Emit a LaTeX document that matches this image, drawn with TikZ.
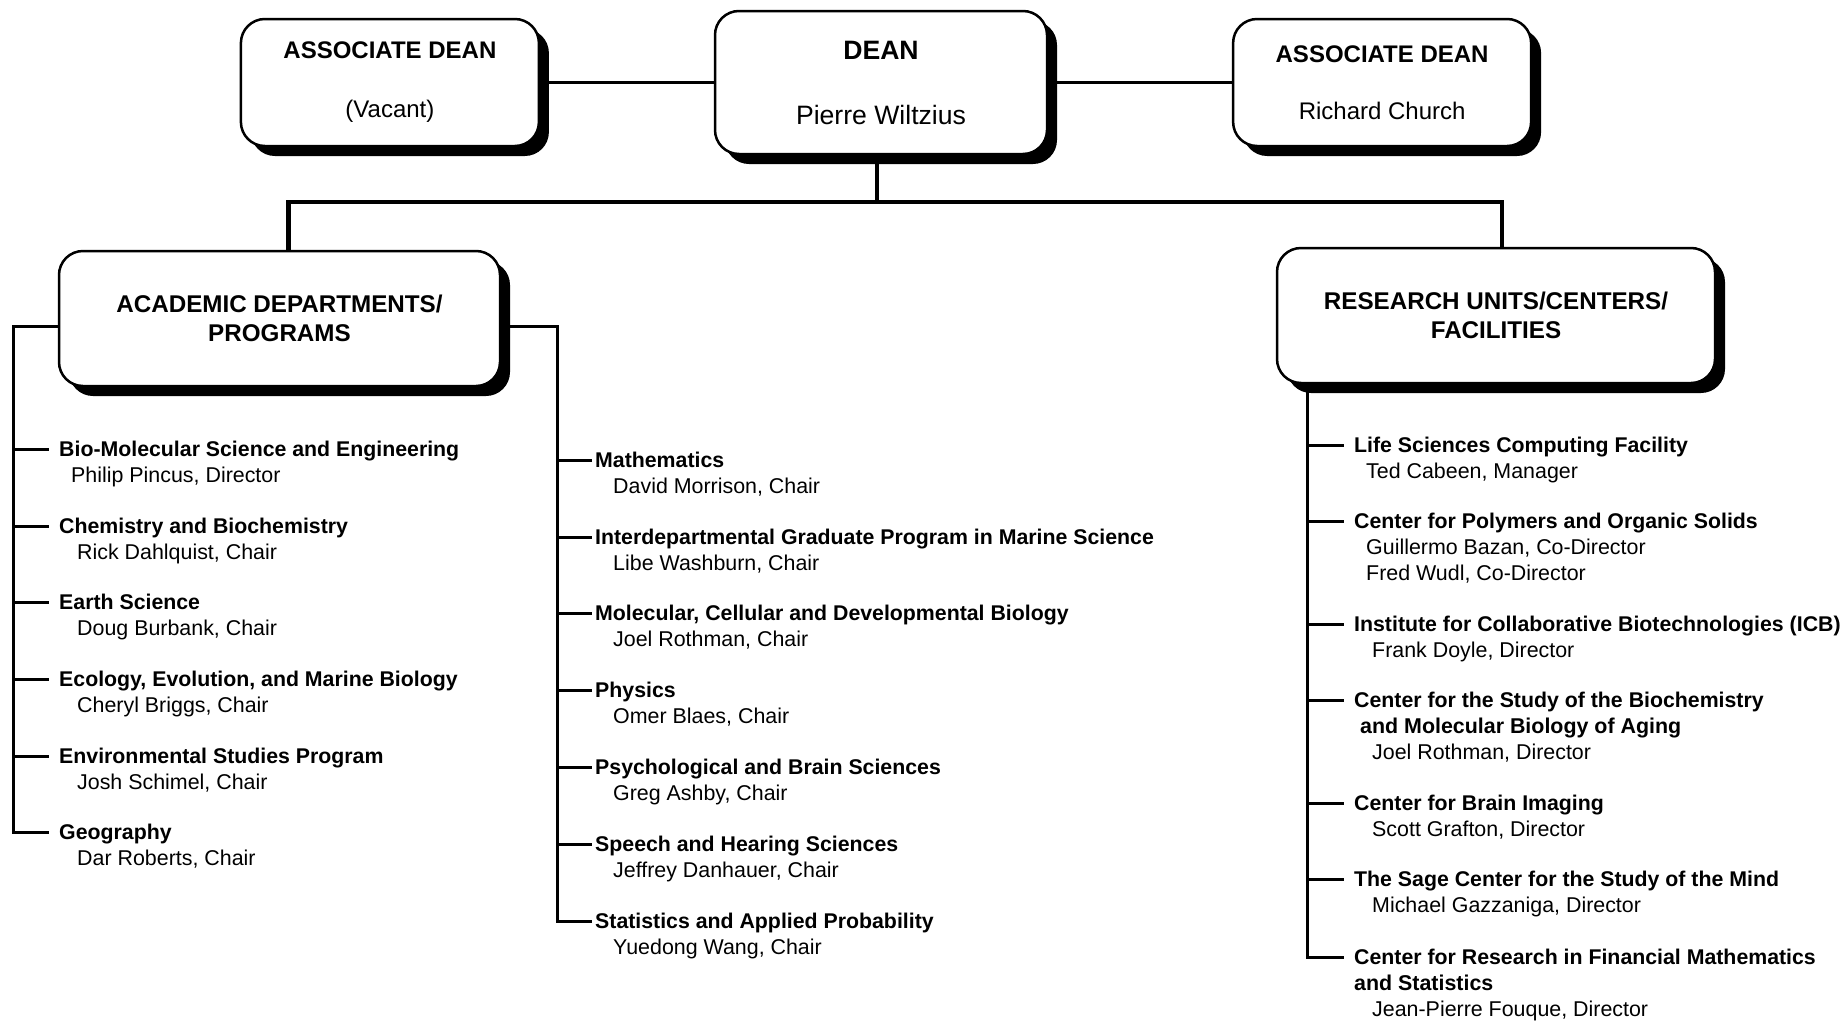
\documentclass[tikz,border=0pt]{standalone}
\usepackage{fontspec}
\setmainfont{Liberation Sans}
\usetikzlibrary{positioning,shadows}

\tikzset{
  box/.style={draw, line width=2.5pt, rounded corners=24pt, fill=white,
    align=center, inner sep=0pt,
    drop shadow={shadow xshift=10pt, shadow yshift=-10pt, fill=black, opacity=1}},
  head/.style={anchor=base west, inner sep=0pt, text height=16pt, text depth=2pt,
    font=\fontsize{21.3}{26}\selectfont\bfseries},
  who/.style={inner sep=0pt, align=left, font=\fontsize{21.4}{26}\selectfont},
  link/.style={line width=2.4pt},
  bus/.style={line width=4.5pt},
  list/.style={line width=3pt},
}

\begin{document}
\begin{tikzpicture}[x=1pt, y=-1pt]
   \useasboundingbox (0,0) rectangle (1846,1020);

   \node[box, minimum width=332pt, minimum height=143pt,
         font=\fontsize{26.6}{32}\selectfont] (dean) at (881,82.5)
         {\textbf{DEAN}\\[33pt]Pierre Wiltzius};
   \node[box, minimum width=298pt, minimum height=127pt,
         font=\fontsize{24}{29}\selectfont, left=173.6pt of dean] (adl)
         {\textbf{ASSOCIATE DEAN}\\[30pt](Vacant)};
   \node[box, minimum width=298pt, minimum height=127pt,
         font=\fontsize{24}{29}\selectfont, right=183.6pt of dean] (adr)
         {\textbf{ASSOCIATE DEAN}\\[28pt]Richard Church};

   \node[box, minimum width=441pt, minimum height=135pt,
         font=\fontsize{24.2}{29}\selectfont\bfseries] (acad) at (279.5,318.5)
         {ACADEMIC DEPARTMENTS/\\PROGRAMS};
   \node[box, minimum width=438pt, minimum height=135pt,
         font=\fontsize{24.2}{29}\selectfont\bfseries] (res) at (1496,315.5)
         {RESEARCH UNITS/CENTERS/\\FACILITIES};

   \coordinate (bus) at (877,202);
   \draw[link] (adl.east) -- (dean.west);
   \draw[link] (dean.east) -- (dean.east -| adr.west);
   \draw[bus] (dean.south -| bus) -- (bus);
   \draw[bus] ([xshift=9pt]acad.north) |- (bus) -| ([xshift=6pt]res.north);

   \node[head] (bmse) at (59,456) {Bio-Molecular Science and Engineering};
   \node[who, below right=7.8pt and 12pt of bmse.base west] (bmsep) {\strut Philip Pincus, Director};
   \node[head] (chem) at (59,533) {Chemistry and Biochemistry};
   \node[who, below right=7.8pt and 18pt of chem.base west] (chemp) {\strut Rick Dahlquist, Chair};
   \node[head] (earth) at (59,609) {Earth Science};
   \node[who, below right=7.8pt and 18pt of earth.base west] (earthp) {\strut Doug Burbank, Chair};
   \node[head] (eemb) at (59,686) {Ecology, Evolution, and Marine Biology};
   \node[who, below right=7.8pt and 18pt of eemb.base west] (eembp) {\strut Cheryl Briggs, Chair};
   \node[head] (esp) at (59,763) {Environmental Studies Program};
   \node[who, below right=7.8pt and 18pt of esp.base west] (espp) {\strut Josh Schimel, Chair};
   \node[head] (geog) at (59,839) {Geography};
   \node[who, below right=7.8pt and 18pt of geog.base west] (geogp) {\strut Dar Roberts, Chair};

   \node[head] (math) at (595,467) {Mathematics};
   \node[who, below right=7.8pt and 18pt of math.base west] (mathp) {\strut David Morrison, Chair};
   \node[head] (igpms) at (595,544) {Interdepartmental Graduate Program in Marine Science};
   \node[who, below right=7.8pt and 18pt of igpms.base west] (igpmsp) {\strut Libe Washburn, Chair};
   \node[head] (mcdb) at (595,620) {Molecular, Cellular and Developmental Biology};
   \node[who, below right=7.8pt and 18pt of mcdb.base west] (mcdbp) {\strut Joel Rothman, Chair};
   \node[head] (phys) at (595,697) {Physics};
   \node[who, below right=7.8pt and 18pt of phys.base west] (physp) {\strut Omer Blaes, Chair};
   \node[head] (pbs) at (595,774) {Psychological and Brain Sciences};
   \node[who, below right=7.8pt and 18pt of pbs.base west] (pbsp) {\strut Greg Ashby, Chair};
   \node[head] (shs) at (595,851) {Speech and Hearing Sciences};
   \node[who, below right=7.8pt and 18pt of shs.base west] (shsp) {\strut Jeffrey Danhauer, Chair};
   \node[head] (pstat) at (595,928) {Statistics and Applied Probability};
   \node[who, below right=7.8pt and 18pt of pstat.base west] (pstatp) {\strut Yuedong Wang, Chair};

   \node[head] (lscf) at (1354,452) {Life Sciences Computing Facility};
   \node[who, below right=7.8pt and 12pt of lscf.base west] (lscfp) {\strut Ted Cabeen, Manager};
   \node[head] (cpos) at (1354,528.5) {Center for Polymers and Organic Solids};
   \node[who, below right=7.8pt and 12pt of cpos.base west] (cposp)
        {\strut Guillermo Bazan, Co-Director\\Fred Wudl, Co-Director};
   \node[head] (icb) at (1354,631) {Institute for Collaborative Biotechnologies (ICB)};
   \node[who, below right=7.8pt and 18pt of icb.base west] (icbp) {\strut Frank Doyle, Director};
   \node[head] (bmba) at (1354,707.5) {Center for the Study of the Biochemistry};
   \node[who, below right=7.8pt and 6pt of bmba.base west] (bmbap)
        {\strut\textbf{and Molecular Biology of Aging}\\\hspace*{12pt}Joel Rothman, Director};
   \node[head] (cbi) at (1354,810) {Center for Brain Imaging};
   \node[who, below right=7.8pt and 18pt of cbi.base west] (cbip) {\strut Scott Grafton, Director};
   \node[head] (sage) at (1354,886.5) {The Sage Center for the Study of the Mind};
   \node[who, below right=7.8pt and 18pt of sage.base west] (sagep) {\strut Michael Gazzaniga, Director};
   \node[head] (crfm) at (1354,964) {Center for Research in Financial Mathematics};
   \node[who, below right=7.8pt and 0pt of crfm.base west] (crfmp)
        {\strut\textbf{and Statistics}\\\hspace*{18pt}Jean-Pierre Fouque, Director};

   \coordinate (lbar) at (13,326);
   \draw[list] (acad.west |- lbar) -- (lbar) |- ([xshift=-10pt]geog.west);
   \draw[list] (lbar |- bmse.west) -- ([xshift=-10pt]bmse.west);
   \draw[list] (lbar |- chem.west) -- ([xshift=-10pt]chem.west);
   \draw[list] (lbar |- earth.west) -- ([xshift=-10pt]earth.west);
   \draw[list] (lbar |- eemb.west) -- ([xshift=-10pt]eemb.west);
   \draw[list] (lbar |- esp.west) -- ([xshift=-10pt]esp.west);

   \coordinate (mbar) at (557,326);
   \draw[list] (acad.east |- mbar) -- (mbar) |- ([xshift=-3pt]pstat.west);
   \draw[list] (mbar |- math.west) -- ([xshift=-3pt]math.west);
   \draw[list] (mbar |- igpms.west) -- ([xshift=-3pt]igpms.west);
   \draw[list] (mbar |- mcdb.west) -- ([xshift=-3pt]mcdb.west);
   \draw[list] (mbar |- phys.west) -- ([xshift=-3pt]phys.west);
   \draw[list] (mbar |- pbs.west) -- ([xshift=-3pt]pbs.west);
   \draw[list] (mbar |- shs.west) -- ([xshift=-3pt]shs.west);

   \coordinate (rbar) at (1307,383);
   \draw[list] (rbar) |- ([xshift=-10pt]crfm.west);
   \draw[list] (rbar |- lscf.west) -- ([xshift=-10pt]lscf.west);
   \draw[list] (rbar |- cpos.west) -- ([xshift=-10pt]cpos.west);
   \draw[list] (rbar |- icb.west) -- ([xshift=-10pt]icb.west);
   \draw[list] (rbar |- bmba.west) -- ([xshift=-10pt]bmba.west);
   \draw[list] (rbar |- cbi.west) -- ([xshift=-10pt]cbi.west);
   \draw[list] (rbar |- sage.west) -- ([xshift=-10pt]sage.west);
\end{tikzpicture}
\end{document}
